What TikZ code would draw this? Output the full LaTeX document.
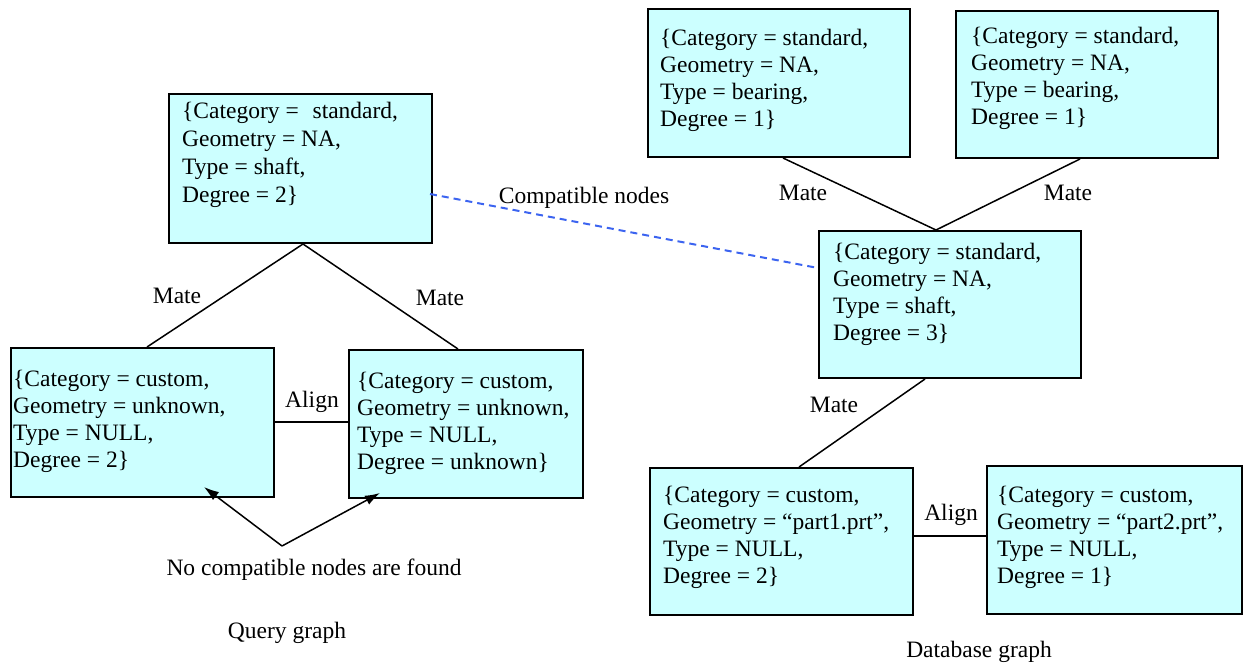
\documentclass[tikz,border=0pt]{standalone}
\usepackage{fontspec}
\setmainfont{Liberation Serif}
\usetikzlibrary{arrows.meta,calc}
\definecolor{boxfill}{HTML}{CCFFFF}
\definecolor{linkblue}{RGB}{60,100,240}
\begin{document}
\begin{tikzpicture}[x=1pt,y=-1pt,
  every node/.style={font=\fontsize{23.5}{27}\selectfont, inner sep=0pt},
  rec/.style={draw=black, line width=2pt, fill=boxfill, rectangle, anchor=north west},
  attr/.style={anchor=north west, align=left},
  link/.style={line width=1.5pt, draw=black},
  lbl/.style={anchor=center},
  match/.style={draw=linkblue, line width=2pt, dash pattern=on 7pt off 5pt},
  tip/.style={-{Latex[length=15pt,width=10pt]}, line width=1.5pt}
]
\useasboundingbox (0,0) rectangle (1246,666);

% ---------- query graph ----------
\node[rec, minimum width=263, minimum height=149] (qt) at (168,93) {};
\node[attr, font=\fontsize{23.5}{28}\selectfont] (qtT) at (182,101.5)
  {\{Category = \hspace{8pt}standard,\\Geometry = NA,\\Type = shaft,\\Degree = 2\}};

\node[rec, minimum width=263, minimum height=149] (ql) at (10,347) {};
\node[attr] (qlT) at (13,369.5)
  {\{Category = custom,\\Geometry = unknown,\\Type = NULL,\\Degree = 2\}};

\node[rec, minimum width=234, minimum height=148] (qr) at (348,349) {};
\node[attr] (qrT) at (357,371.5)
  {\{Category = custom,\\Geometry = unknown,\\Type = NULL,\\Degree = unknown\}};

% ---------- database graph ----------
\node[rec, minimum width=262, minimum height=148] (dtl) at (647,8) {};
\node[attr] (dtlT) at (660,28.5)
  {\{Category = standard,\\Geometry = NA,\\Type = bearing,\\Degree = 1\}};

\node[rec, minimum width=262, minimum height=147] (dtr) at (955,10) {};
\node[attr] (dtrT) at (971,26.5)
  {\{Category = standard,\\Geometry = NA,\\Type = bearing,\\Degree = 1\}};

\node[rec, minimum width=262, minimum height=147] (dm) at (818,230) {};
\node[attr] (dmT) at (833,242.5)
  {\{Category = standard,\\Geometry = NA,\\Type = shaft,\\Degree = 3\}};

\node[rec, minimum width=263, minimum height=147] (dbl) at (649,467) {};
\node[attr] (dblT) at (663,485.5)
  {\{Category = custom,\\Geometry = “part1.prt”,\\Type = NULL,\\Degree = 2\}};

\node[rec, minimum width=255, minimum height=148] (dbr) at (986,465) {};
\node[attr] (dbrT) at (997,485.5)
  {\{Category = custom,\\Geometry = “part2.prt”,\\Type = NULL,\\Degree = 1\}};

% ---------- attachment points ----------
\coordinate (qtB) at ($(qt.south west)+(135,0)$);
\coordinate (qlA) at ($(ql.north west)+(137,0)$);
\coordinate (qrA) at ($(qr.north west)+(110,0)$);
\coordinate (qtM) at ($(qt.north east)+(-3,101)$);
\coordinate (dmM) at ($(dm.north west)+(0,38)$);
\coordinate (dtlB) at ($(dtl.south west)+(136,0)$);
\coordinate (dtrB) at ($(dtr.south west)+(125,0)$);
\coordinate (dmA) at ($(dm.north west)+(118,0)$);
\coordinate (dmB) at ($(dm.south west)+(107,0)$);
\coordinate (dblA) at ($(dbl.north west)+(150,0)$);
\coordinate (qroot) at (282,546);
\coordinate (qlTip) at ($(ql.south west)+(194,-11)$);
\coordinate (qrTip) at ($(qr.south west)+(32,-6)$);

% ---------- connectors ----------
\draw[link] (qlA) -- (qtB) -- (qrA);
\draw[link] (ql.east |- 0,422) -- (qr.west |- 0,422);
\draw[link] (dtlB) -- (dmA) -- (dtrB);
\draw[link] (dmB) -- (dblA);
\draw[link] (dbl.east |- 0,536) -- (dbr.west |- 0,536);
\draw[match] (qtM) -- (dmM);
\draw[tip] (qroot) -- (qlTip);
\draw[tip] (qroot) -- (qrTip);

% ---------- labels ----------
\node[lbl] (m1) at (177,296) {Mate};
\node[lbl] (m2) at (440,298) {Mate};
\node[lbl] (a1) at (312,402) {Align};
\node[lbl] (m3) at (803,193) {Mate};
\node[lbl] (m4) at (1068,193) {Mate};
\node[lbl] (m5) at (834,405) {Mate};
\node[lbl] (a2) at (951,515) {Align};
\node[lbl] (cn) at (584,198) {Compatible nodes};
\node[lbl] (nf) at (314,570) {No compatible nodes are found};
\node[lbl] (qg) at (287,633) {Query graph};
\node[lbl] (dg) at (979,652) {Database graph};
\end{tikzpicture}
\end{document}
